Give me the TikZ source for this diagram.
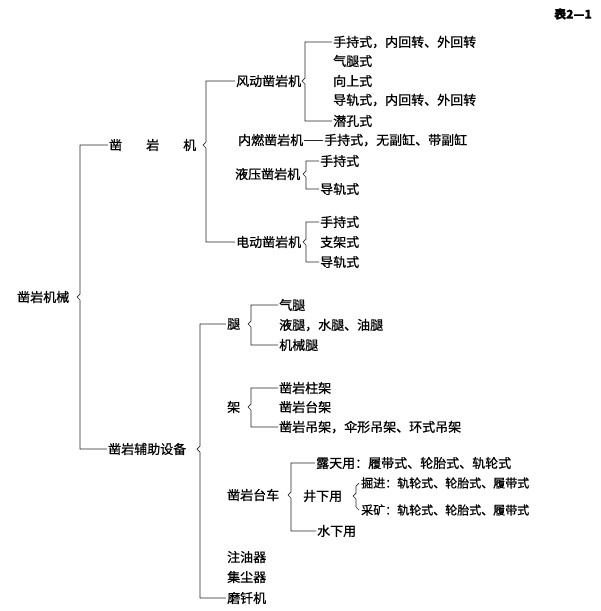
\documentclass[tikz,border=0pt]{standalone}
\usepackage{fontspec}
\setmainfont[FakeBold=0.8]{Noto Sans CJK SC}
\usetikzlibrary{calc,positioning}

\begin{document}
\begin{tikzpicture}[x=1pt,y=-1pt]

	\tikzstyle{txt}=[anchor=west, inner sep=1pt, font=\fontsize{13}{15}\selectfont]
	\tikzstyle{tie}=[black!85, line width=0.7pt]

	\useasboundingbox (0,0) rectangle (601,611);

	\coordinate (b_0) at (80, 0); % RAIZ
	\coordinate (b_1) at (206, 0); % ZAOYANJI
	\coordinate (b_2) at (305, 0);
	\coordinate (b_3) at (306, 0);
	\coordinate (b_4) at (306, 0);
	\coordinate (b_5) at (200, 0); % FUZHU
	\coordinate (b_6) at (251, 0);
	\coordinate (b_7) at (251, 0);
	\coordinate (b_8) at (291, 0);
	\coordinate (b_9) at (356, 0);

	\node[txt, font=\fontsize{12}{14}\selectfont\bfseries] (tab) at (553, 14) {表2—1};

	\node[txt] (root) at (16, 297) {凿岩机械};
	\node[txt] (zyj) at (108, 145) {凿\hspace{24pt}岩\hspace{24pt}机};
	\node[txt] (fz) at (107, 449) {凿岩辅助设备};

	\node[txt] (fd) at (235, 81) {风动凿岩机}; % ROCA 1
	\node[txt] (fd_1) at (332, 42) {手持式，内回转、外回转};
	\node[txt] (fd_2) at (332, 61) {气腿式};
	\node[txt] (fd_3) at (332, 81) {向上式};
	\node[txt] (fd_4) at (332, 100) {导轨式，内回转、外回转};
	\node[txt] (fd_5) at (332, 121) {潜孔式};

	\node[txt] (nr) at (237, 140) {内燃凿岩机};
	\node[txt] (nr_1) at (323, 140) {手持式，无副缸、带副缸};

	\node[txt] (yy) at (234, 174) {液压凿岩机};
	\node[txt] (yy_1) at (319, 161) {手持式};
	\node[txt] (yy_2) at (319, 189) {导轨式};

	\node[txt] (dd) at (235, 242) {电动凿岩机};
	\node[txt] (dd_1) at (319, 222) {手持式};
	\node[txt] (dd_2) at (319, 242) {支架式};
	\node[txt] (dd_3) at (319, 262) {导轨式};

	\node[txt] (tui) at (226, 324) {腿}; % FUZHU
	\node[txt] (tui_1) at (278, 305) {气腿};
	\node[txt] (tui_2) at (278, 325) {液腿，水腿、油腿};
	\node[txt] (tui_3) at (278, 345) {机械腿};

	\node[txt] (jia) at (226, 407) {架};
	\node[txt] (jia_1) at (278, 388) {凿岩柱架};
	\node[txt] (jia_2) at (278, 407) {凿岩台架};
	\node[txt] (jia_3) at (278, 427) {凿岩吊架，伞形吊架、环式吊架};

	\node[txt] (tc) at (226, 495) {凿岩台车};
	\node[txt] (tc_1) at (315, 463) {露天用：履带式、轮胎式、轨轮式};
	\node[txt] (jx) at (302, 496) {井下用};
	\node[txt, font=\fontsize{12}{14}\selectfont] (jx_1) at (360, 483) {掘进：轨轮式、轮胎式、履带式};
	\node[txt, font=\fontsize{12}{14}\selectfont] (jx_2) at (360, 510) {采矿：轨轮式、轮胎式、履带式};
	\node[txt] (tc_3) at (316, 531) {水下用};

	\node[txt] (zyq) at (226, 557) {注油器};
	\node[txt] (jcq) at (226, 577) {集尘器};
	\node[txt] (mqj) at (226, 598) {磨钎机};

	% llaves
	\draw[tie] (zyj.west) -- (zyj.west -| b_0) -- ($(b_0 |- root)+(0,-3)$) -- ($(b_0 |- root)+(-3,0)$) -- ($(b_0 |- root)+(0,3)$) -- (fz.west -| b_0) -- (fz.west);
	\draw[tie] (fd.west) -- (fd.west -| b_1) -- ($(b_1 |- zyj)+(0,-3)$) -- ($(b_1 |- zyj)+(-3,0)$) -- ($(b_1 |- zyj)+(0,3)$) -- (dd.west -| b_1) -- (dd.west);
	\draw[tie] (fd_1.west) -- (fd_1.west -| b_2) -- ($(b_2 |- fd)+(0,-3)$) -- ($(b_2 |- fd)+(-3,0)$) -- ($(b_2 |- fd)+(0,3)$) -- (fd_5.west -| b_2) -- (fd_5.west);
	\draw[tie] (nr.east) -- (nr_1.west);
	\draw[tie] (yy_1.west) -- (yy_1.west -| b_3) -- ($(b_3 |- yy)+(0,-3)$) -- ($(b_3 |- yy)+(-3,0)$) -- ($(b_3 |- yy)+(0,3)$) -- (yy_2.west -| b_3) -- (yy_2.west);
	\draw[tie] (dd_1.west) -- (dd_1.west -| b_4) -- ($(b_4 |- dd)+(0,-3)$) -- ($(b_4 |- dd)+(-3,0)$) -- ($(b_4 |- dd)+(0,3)$) -- (dd_3.west -| b_4) -- (dd_3.west);

	\draw[tie] (tui.west) -- (tui.west -| b_5) -- ($(b_5 |- fz)+(0,-3)$) -- ($(b_5 |- fz)+(-3,0)$) -- ($(b_5 |- fz)+(0,3)$) -- (mqj.west -| b_5) -- (mqj.west);
	\draw[tie] (tui_1.west) -- (tui_1.west -| b_6) -- ($(b_6 |- tui)+(0,-3)$) -- ($(b_6 |- tui)+(-3,0)$) -- ($(b_6 |- tui)+(0,3)$) -- (tui_3.west -| b_6) -- (tui_3.west);
	\draw[tie] (jia_1.west) -- (jia_1.west -| b_7) -- ($(b_7 |- jia)+(0,-3)$) -- ($(b_7 |- jia)+(-3,0)$) -- ($(b_7 |- jia)+(0,3)$) -- (jia_3.west -| b_7) -- (jia_3.west);
	\draw[tie] (tc_1.west) -- (tc_1.west -| b_8) -- ($(b_8 |- tc)+(0,-3)$) -- ($(b_8 |- tc)+(-3,0)$) -- ($(b_8 |- tc)+(0,3)$) -- (tc_3.west -| b_8) -- (tc_3.west);
	\draw[tie] ($(jx_1.west)+(-1,0)$) -- ($(jx_1.west -| b_9)+(0,3)$) -- ($(b_9 |- jx)+(0,-3)$) -- ($(b_9 |- jx)+(-3,0)$) -- ($(b_9 |- jx)+(0,3)$) -- ($(jx_2.west -| b_9)+(0,-3)$) -- ($(jx_2.west)+(-1,0)$);

\end{tikzpicture}
\end{document}
